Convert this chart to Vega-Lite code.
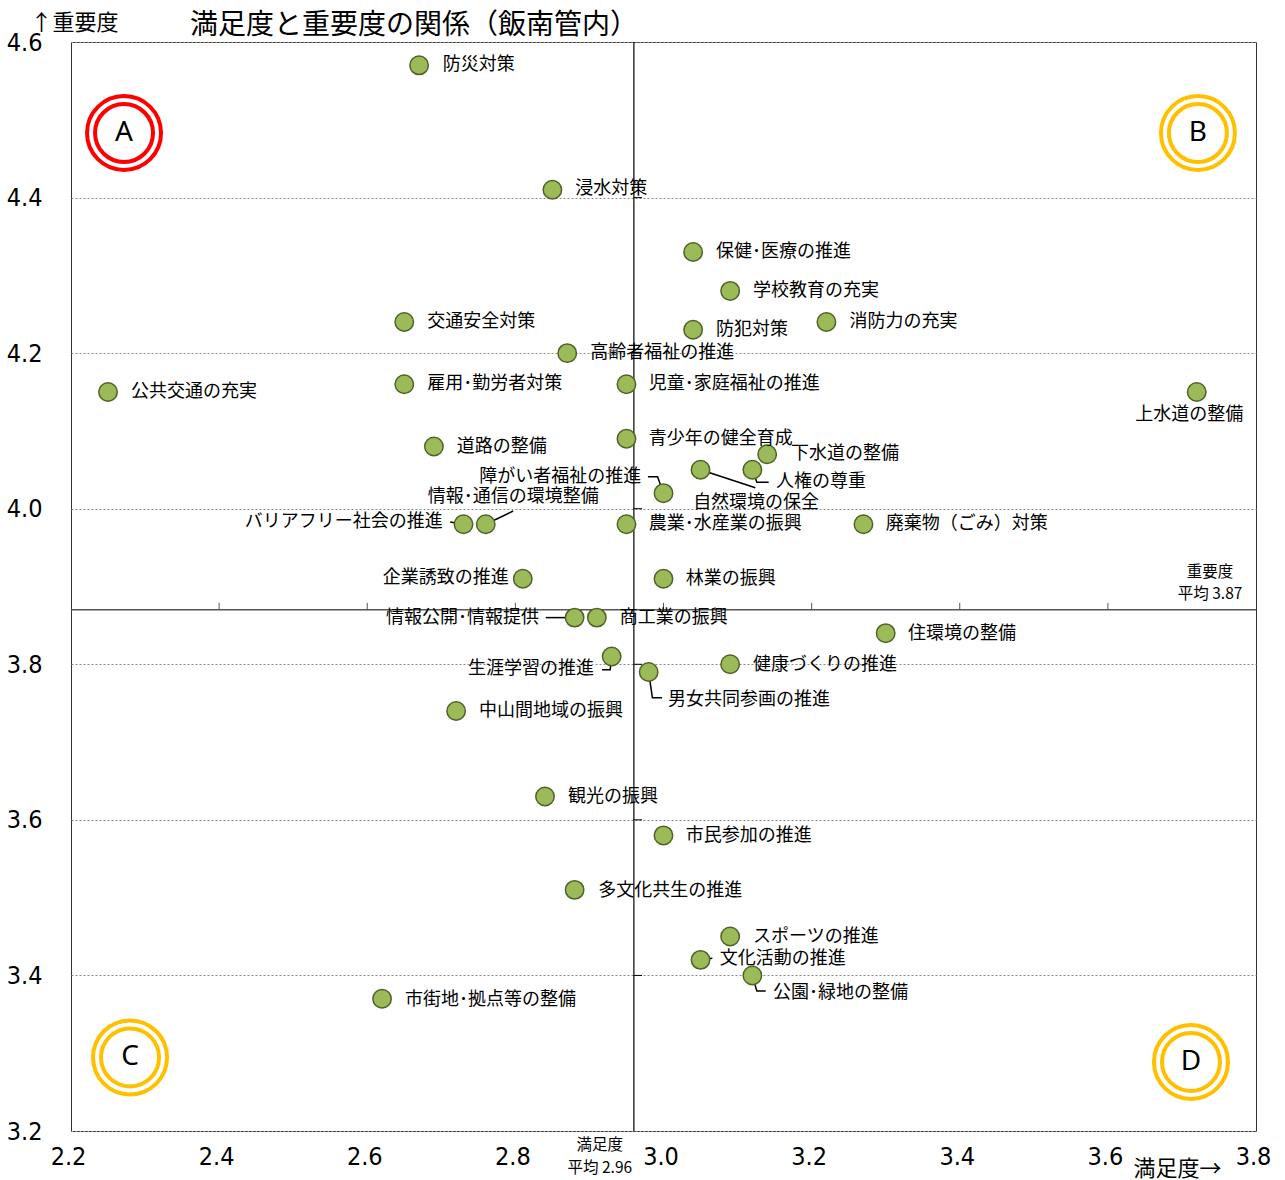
{
  "$schema": "https://vega.github.io/schema/vega-lite/v6.json",
  "width": 1185,
  "height": 1089,
  "autosize": "none",
  "padding": {"left": 71, "top": 42, "right": 29, "bottom": 49},
  "background": "white",
  "config": {
    "view": {"stroke": "#333333", "strokeWidth": 1},
    "font": "Noto Sans CJK JP"
  },
  "title": {
    "text": "満足度と重要度の関係（飯南管内）",
    "anchor": "start",
    "frame": "group",
    "dx": 119,
    "offset": -29,
    "fontSize": 28,
    "fontWeight": "normal",
    "font": "Noto Sans CJK JP",
    "color": "#000000"
  },
  "datasets": {
    "items": [
      {"name": "防災対策", "sat": 2.67, "imp": 4.57, "lx": 2.702, "ly": 4.570, "side": "r"},
      {"name": "浸水対策", "sat": 2.85, "imp": 4.41, "lx": 2.881, "ly": 4.411, "side": "r"},
      {"name": "保健･医療の推進", "sat": 3.04, "imp": 4.33, "lx": 3.071, "ly": 4.330, "side": "r"},
      {"name": "学校教育の充実", "sat": 3.09, "imp": 4.28, "lx": 3.121, "ly": 4.280, "side": "r"},
      {"name": "交通安全対策", "sat": 2.65, "imp": 4.24, "lx": 2.681, "ly": 4.240, "side": "r"},
      {"name": "防犯対策", "sat": 3.04, "imp": 4.23, "lx": 3.071, "ly": 4.230, "side": "r"},
      {"name": "消防力の充実", "sat": 3.22, "imp": 4.24, "lx": 3.251, "ly": 4.240, "side": "r"},
      {"name": "高齢者福祉の推進", "sat": 2.87, "imp": 4.20, "lx": 2.901, "ly": 4.200, "side": "r"},
      {"name": "公共交通の充実", "sat": 2.25, "imp": 4.15, "lx": 2.281, "ly": 4.150, "side": "r"},
      {"name": "雇用･勤労者対策", "sat": 2.65, "imp": 4.16, "lx": 2.681, "ly": 4.160, "side": "r"},
      {"name": "児童･家庭福祉の推進", "sat": 2.95, "imp": 4.16, "lx": 2.980, "ly": 4.160, "side": "r"},
      {"name": "上水道の整備", "sat": 3.72, "imp": 4.15, "lx": 3.710, "ly": 4.121, "side": "c"},
      {"name": "道路の整備", "sat": 2.69, "imp": 4.08, "lx": 2.721, "ly": 4.079, "side": "r"},
      {"name": "青少年の健全育成", "sat": 2.95, "imp": 4.09, "lx": 2.980, "ly": 4.090, "side": "r"},
      {"name": "下水道の整備", "sat": 3.14, "imp": 4.07, "lx": 3.172, "ly": 4.070, "side": "r"},
      {"name": "人権の尊重", "sat": 3.12, "imp": 4.05, "lx": 3.152, "ly": 4.034, "side": "r"},
      {"name": "自然環境の保全", "sat": 3.05, "imp": 4.05, "lx": 3.040, "ly": 4.007, "side": "r"},
      {"name": "障がい者福祉の推進", "sat": 3.00, "imp": 4.02, "lx": 2.970, "ly": 4.041, "side": "l"},
      {"name": "バリアフリー社会の推進", "sat": 2.73, "imp": 3.98, "lx": 2.702, "ly": 3.983, "side": "l"},
      {"name": "情報･通信の環境整備", "sat": 2.76, "imp": 3.98, "lx": 2.797, "ly": 4.015, "side": "c"},
      {"name": "農業･水産業の振興", "sat": 2.95, "imp": 3.98, "lx": 2.980, "ly": 3.980, "side": "r"},
      {"name": "廃棄物（ごみ）対策", "sat": 3.27, "imp": 3.98, "lx": 3.300, "ly": 3.980, "side": "r"},
      {"name": "企業誘致の推進", "sat": 2.81, "imp": 3.91, "lx": 2.791, "ly": 3.911, "side": "l"},
      {"name": "林業の振興", "sat": 3.00, "imp": 3.91, "lx": 3.030, "ly": 3.910, "side": "r"},
      {"name": "情報公開･情報提供", "sat": 2.88, "imp": 3.86, "lx": 2.832, "ly": 3.860, "side": "l"},
      {"name": "商工業の振興", "sat": 2.91, "imp": 3.86, "lx": 2.941, "ly": 3.860, "side": "r"},
      {"name": "住環境の整備", "sat": 3.30, "imp": 3.84, "lx": 3.330, "ly": 3.839, "side": "r"},
      {"name": "生涯学習の推進", "sat": 2.93, "imp": 3.81, "lx": 2.906, "ly": 3.794, "side": "l"},
      {"name": "男女共同参画の推進", "sat": 2.98, "imp": 3.79, "lx": 3.006, "ly": 3.754, "side": "r"},
      {"name": "健康づくりの推進", "sat": 3.09, "imp": 3.80, "lx": 3.121, "ly": 3.799, "side": "r"},
      {"name": "中山間地域の振興", "sat": 2.72, "imp": 3.74, "lx": 2.751, "ly": 3.740, "side": "r"},
      {"name": "観光の振興", "sat": 2.84, "imp": 3.63, "lx": 2.871, "ly": 3.629, "side": "r"},
      {"name": "市民参加の推進", "sat": 3.00, "imp": 3.58, "lx": 3.030, "ly": 3.579, "side": "r"},
      {"name": "多文化共生の推進", "sat": 2.88, "imp": 3.51, "lx": 2.912, "ly": 3.509, "side": "r"},
      {"name": "スポーツの推進", "sat": 3.09, "imp": 3.45, "lx": 3.121, "ly": 3.449, "side": "r"},
      {"name": "文化活動の推進", "sat": 3.05, "imp": 3.42, "lx": 3.076, "ly": 3.421, "side": "r"},
      {"name": "公園･緑地の整備", "sat": 3.12, "imp": 3.40, "lx": 3.148, "ly": 3.377, "side": "r"},
      {"name": "市街地･拠点等の整備", "sat": 2.62, "imp": 3.37, "lx": 2.651, "ly": 3.368, "side": "r"}
    ],
    "leaders": [
      {"id": "人権", "o": 1, "x": 3.12, "y": 4.05},
      {"id": "人権", "o": 2, "x": 3.126, "y": 4.034},
      {"id": "人権", "o": 3, "x": 3.142, "y": 4.034},
      {"id": "自然", "o": 1, "x": 3.05, "y": 4.05},
      {"id": "自然", "o": 2, "x": 3.124, "y": 4.027},
      {"id": "障がい", "o": 1, "x": 2.979, "y": 4.041},
      {"id": "障がい", "o": 2, "x": 2.992, "y": 4.041},
      {"id": "障がい", "o": 3, "x": 3.0, "y": 4.02},
      {"id": "バリア", "o": 1, "x": 2.712, "y": 3.983},
      {"id": "バリア", "o": 2, "x": 2.73, "y": 3.98},
      {"id": "通信", "o": 1, "x": 2.76, "y": 3.98},
      {"id": "通信", "o": 2, "x": 2.797, "y": 3.997},
      {"id": "公開", "o": 1, "x": 2.841, "y": 3.86},
      {"id": "公開", "o": 2, "x": 2.88, "y": 3.86},
      {"id": "生涯", "o": 1, "x": 2.917, "y": 3.793},
      {"id": "生涯", "o": 2, "x": 2.928, "y": 3.793},
      {"id": "生涯", "o": 3, "x": 2.93, "y": 3.81},
      {"id": "男女", "o": 1, "x": 2.98, "y": 3.79},
      {"id": "男女", "o": 2, "x": 2.985, "y": 3.757},
      {"id": "男女", "o": 3, "x": 2.998, "y": 3.757},
      {"id": "文化", "o": 1, "x": 3.05, "y": 3.42},
      {"id": "文化", "o": 2, "x": 3.066, "y": 3.422},
      {"id": "公園", "o": 1, "x": 3.12, "y": 3.40},
      {"id": "公園", "o": 2, "x": 3.126, "y": 3.38},
      {"id": "公園", "o": 3, "x": 3.138, "y": 3.38}
    ],
    "avg": [{"s": 2.96, "i": 3.87}],
    "xticks": [{"v": 2.4}, {"v": 2.6}, {"v": 2.8}, {"v": 3.0}, {"v": 3.2}, {"v": 3.4}, {"v": 3.6}],
    "yticks": [{"v": 3.4}, {"v": 3.6}, {"v": 3.8}, {"v": 4.0}, {"v": 4.2}, {"v": 4.4}],
    "avgnotes": [
      {"t": "重要度", "x": 3.738, "y": 3.919},
      {"t": "平均  3.87", "x": 3.738, "y": 3.890},
      {"t": "満足度", "x": 2.914, "y": 3.182},
      {"t": "平均  2.96", "x": 2.914, "y": 3.152}
    ],
    "quads": [
      {"q": "A", "x": 2.2716, "y": 4.483},
      {"q": "B", "x": 3.7216, "y": 4.483},
      {"q": "C", "x": 2.2797, "y": 3.2946},
      {"q": "D", "x": 3.7122, "y": 3.2888}
    ]
  },
  "layer": [
    {
      "data": {"name": "items"},
      "mark": {"type": "point", "opacity": 0},
      "encoding": {
        "x": {
          "field": "sat", "type": "quantitative",
          "scale": {"domain": [2.2, 3.8], "nice": false, "zero": false},
          "axis": {
            "values": [2.2, 2.4, 2.6, 2.8, 3.0, 3.2, 3.4, 3.6, 3.8],
            "format": ".1f",
            "grid": false, "ticks": false, "tickSize": 0, "domain": false,
            "labelFont": "Liberation Sans Narrow, DejaVu Sans Condensed, Liberation Sans",
            "labelFontSize": 25, "labelColor": "#000000", "labelPadding": 13, "labelOffset": -3,
            "labelFlush": false, "labelOverlap": false, "labelBound": false,
            "title": "満足度→", "titleX": 1062, "titleY": 37,
            "titleAlign": "left", "titleBaseline": "middle", "titleAngle": 0,
            "titleFont": "Noto Sans CJK JP", "titleFontSize": 22, "titleFontWeight": "normal", "titleColor": "#000000"
          }
        },
        "y": {
          "field": "imp", "type": "quantitative",
          "scale": {"domain": [3.2, 4.6], "nice": false, "zero": false},
          "axis": {
            "values": [3.2, 3.4, 3.6, 3.8, 4.0, 4.2, 4.4, 4.6],
            "format": ".1f",
            "grid": true, "gridDash": [2, 2], "gridColor": "#8a8a8a", "gridWidth": 1,
            "ticks": false, "tickSize": 0, "domain": false,
            "labelFont": "Liberation Sans Narrow, DejaVu Sans Condensed, Liberation Sans",
            "labelFontSize": 25, "labelColor": "#000000", "labelPadding": 29,
            "labelFlush": false, "labelOverlap": false, "labelBound": false,
            "title": "↑重要度", "titleX": -41, "titleY": -20,
            "titleAlign": "left", "titleBaseline": "middle", "titleAngle": 0,
            "titleFont": "Noto Sans CJK JP", "titleFontSize": 22, "titleFontWeight": "normal", "titleColor": "#000000"
          }
        }
      }
    },
    {
      "data": {"name": "avg"},
      "mark": {"type": "rule", "color": "#000000", "strokeWidth": 1.2},
      "encoding": {"x": {"field": "s", "type": "quantitative"}}
    },
    {
      "data": {"name": "avg"},
      "mark": {"type": "rule", "color": "#555555", "strokeWidth": 1.5},
      "encoding": {"y": {"field": "i", "type": "quantitative"}}
    },
    {
      "data": {"name": "xticks"},
      "mark": {"type": "rule", "color": "#555555", "strokeWidth": 1},
      "encoding": {
        "x": {"field": "v", "type": "quantitative"},
        "y": {"datum": 3.87, "type": "quantitative"},
        "y2": {"datum": 3.879}
      }
    },
    {
      "data": {"name": "yticks"},
      "mark": {"type": "rule", "color": "#000000", "strokeWidth": 1},
      "encoding": {
        "y": {"field": "v", "type": "quantitative"},
        "x": {"datum": 2.96, "type": "quantitative"},
        "x2": {"datum": 2.971}
      }
    },
    {
      "data": {"name": "leaders"},
      "mark": {"type": "line", "color": "#000000", "strokeWidth": 1.5},
      "encoding": {
        "x": {"field": "x", "type": "quantitative"},
        "y": {"field": "y", "type": "quantitative"},
        "detail": {"field": "id"},
        "order": {"field": "o", "type": "quantitative"}
      }
    },
    {
      "data": {"name": "items"},
      "mark": {"type": "point", "shape": "circle", "filled": true, "size": 340, "fill": "#9BBB59", "stroke": "#4F6228", "strokeWidth": 1.5, "opacity": 1},
      "encoding": {
        "x": {"field": "sat", "type": "quantitative"},
        "y": {"field": "imp", "type": "quantitative"}
      }
    },
    {
      "data": {"name": "items"},
      "transform": [{"filter": "datum.side === 'r'"}],
      "mark": {"type": "text", "align": "left", "baseline": "middle", "fontSize": 18, "font": "Noto Sans CJK JP", "color": "#000000"},
      "encoding": {
        "x": {"field": "lx", "type": "quantitative"},
        "y": {"field": "ly", "type": "quantitative"},
        "text": {"field": "name"}
      }
    },
    {
      "data": {"name": "items"},
      "transform": [{"filter": "datum.side === 'l'"}],
      "mark": {"type": "text", "align": "right", "baseline": "middle", "fontSize": 18, "font": "Noto Sans CJK JP", "color": "#000000"},
      "encoding": {
        "x": {"field": "lx", "type": "quantitative"},
        "y": {"field": "ly", "type": "quantitative"},
        "text": {"field": "name"}
      }
    },
    {
      "data": {"name": "items"},
      "transform": [{"filter": "datum.side === 'c'"}],
      "mark": {"type": "text", "align": "center", "baseline": "middle", "fontSize": 18, "font": "Noto Sans CJK JP", "color": "#000000"},
      "encoding": {
        "x": {"field": "lx", "type": "quantitative"},
        "y": {"field": "ly", "type": "quantitative"},
        "text": {"field": "name"}
      }
    },
    {
      "data": {"name": "avgnotes"},
      "mark": {"type": "text", "align": "center", "baseline": "middle", "fontSize": 15.5, "font": "Noto Sans CJK JP", "color": "#000000"},
      "encoding": {
        "x": {"field": "x", "type": "quantitative"},
        "y": {"field": "y", "type": "quantitative"},
        "text": {"field": "t"}
      }
    },
    {
      "data": {"name": "quads"},
      "mark": {"type": "point", "shape": "circle", "filled": false, "size": 5476, "strokeWidth": 4, "opacity": 1},
      "encoding": {
        "x": {"field": "x", "type": "quantitative"},
        "y": {"field": "y", "type": "quantitative"},
        "color": {"field": "q", "type": "nominal", "scale": {"domain": ["A", "B", "C", "D"], "range": ["#FF0000", "#FFC000", "#FFC000", "#FFC000"]}, "legend": null}
      }
    },
    {
      "data": {"name": "quads"},
      "mark": {"type": "point", "shape": "circle", "filled": false, "size": 3364, "strokeWidth": 4, "opacity": 1},
      "encoding": {
        "x": {"field": "x", "type": "quantitative"},
        "y": {"field": "y", "type": "quantitative"},
        "color": {"field": "q", "type": "nominal", "legend": null}
      }
    },
    {
      "data": {"name": "quads"},
      "mark": {"type": "text", "align": "center", "baseline": "middle", "fontSize": 28, "font": "Noto Sans", "color": "#000000"},
      "encoding": {
        "x": {"field": "x", "type": "quantitative"},
        "y": {"field": "y", "type": "quantitative"},
        "text": {"field": "q"}
      }
    }
  ]
}
